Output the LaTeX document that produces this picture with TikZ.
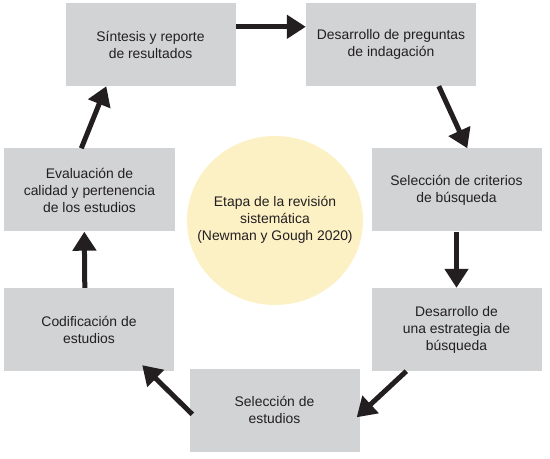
\documentclass[tikz,border=0pt]{standalone}
\usepackage{fontspec}
\setmainfont{Liberation Sans}
\usetikzlibrary{arrows.meta,calc}
\definecolor{boxgray}{HTML}{D1D3D4}
\definecolor{paleyellow}{HTML}{FCF1C5}
\definecolor{ink}{HTML}{231F20}
\tikzset{
  stagebox/.style={rectangle, fill=boxgray, minimum width=170bp, minimum height=83bp,
    align=center, text=ink, inner sep=0pt, font=\fontsize{13.9bp}{17bp}\selectfont},
  centretext/.style={align=center, text=ink, inner sep=0pt, font=\fontsize{13.9bp}{17bp}\selectfont},
  flow/.style={draw=ink, line width=5bp, -{Triangle[width=23bp,length=19bp]}}
}
\begin{document}
\begin{tikzpicture}[x=1bp,y=-1bp]
\useasboundingbox (0,0) rectangle (550,459);
\fill[paleyellow] (275,220.5) ellipse [x radius=88, y radius=84.5];
\node[centretext] (c) at (275,220) {Etapa de la revisión\\sistemática\\(Newman y Gough 2020)};
\node[stagebox] (b1) at (150.5,44.5) {Síntesis y reporte\\de resultados};
\node[stagebox] (b2) at (391,44.5) {Desarrollo de preguntas\\de indagación};
\node[stagebox] (b3) at (456.5,190) {Selección de criterios\\de búsqueda};
\node[stagebox] (b4) at (456.5,329.5) {Desarrollo de\\una estrategia de\\búsqueda};
\node[stagebox] (b5) at (274.5,410) {Selección de\\estudios};
\node[stagebox] (b6) at (89,329.5) {Codificación de\\estudios};
\node[stagebox] (b7) at (89.5,190) {Evaluación de\\calidad y pertenencia\\de los estudios};
\draw[flow] ($(b1.north east)+(0,24)$) -- ($(b2.north west)+(0,24)$);
\draw[flow] ($(b2.south west)+(133,0)$) -- ($(b3.north west)+(96,0)$);
\draw[flow] (b3.south) -- (b4.north);
\draw[flow] ($(b4.south west)+(35,0)$) -- ($(b5.north east)+(-3,49)$);
\draw[flow] ($(b5.north west)+(3,46)$) -- ($(b6.south east)+(-32,-6)$);
\draw[flow] ($(b6.north west)+(81,0)$) -- ($(b7.south west)+(80,0)$);
\draw[flow] ($(b7.north west)+(77,0)$) -- ($(b1.south west)+(41,0)$);
\end{tikzpicture}
\end{document}
